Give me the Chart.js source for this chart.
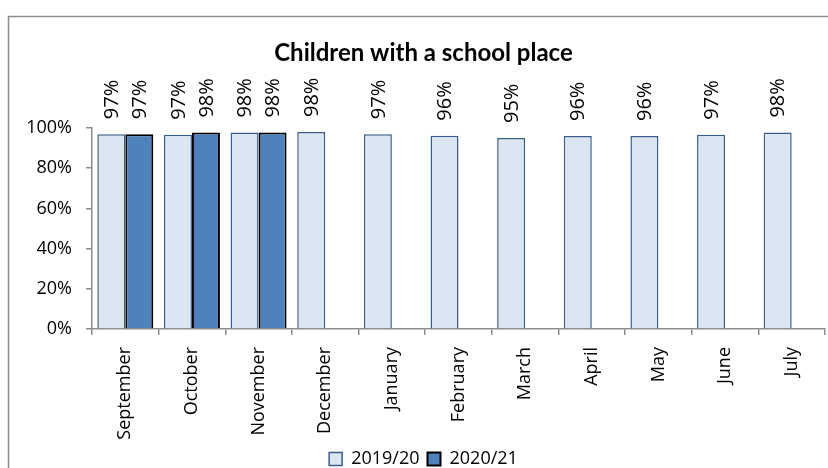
<!DOCTYPE html>
<html>
<head>
<meta charset="utf-8">
<script src="https://cdn.jsdelivr.net/npm/chart.js@4/dist/chart.umd.min.js"></script>
<style>
  html, body { margin: 0; padding: 0; background: #fff; overflow: hidden; }
  #wrap { position: relative; width: 860px; height: 478px; }
</style>
</head>
<body>
<div id="wrap"><canvas id="chart" width="860" height="478"></canvas></div>
<script>
// Months of the school year
const months = ['September', 'October', 'November', 'December', 'January', 'February',
                'March', 'April', 'May', 'June', 'July'];
// Share of children with a school place (%)
const year2019 = [96.9, 96.6, 97.7, 98.0, 96.9, 96.2, 95.0, 96.0, 96.0, 96.7, 97.7];
const year2020 = [96.9, 97.7, 97.7, null, null, null, null, null, null, null, null];
const seriesNames = ['2019/20', '2020/21'];
const yTicks = [0, 20, 40, 60, 80, 100];

const FONT = '"Open Sans", Lato, "Liberation Sans", sans-serif';
const TITLE_FONT = 'Lato, "Open Sans", "Liberation Sans", sans-serif';

// Outer frame around the whole chart
const framePlugin = {
  id: 'frame',
  beforeDraw(chart) {
    const ctx = chart.ctx;
    ctx.save();
    ctx.fillStyle = '#ffffff';
    ctx.fillRect(0, 0, chart.width, chart.height);
    ctx.strokeStyle = '#8c8c8c';
    ctx.lineWidth = 1.5;
    ctx.strokeRect(8.5, 16.5, 2000, 2000);
    ctx.restore();
  }
};

// Vertical percentage labels above each bar
const valueLabels = {
  id: 'valueLabels',
  afterDatasetsDraw(chart) {
    const ctx = chart.ctx;
    ctx.save();
    ctx.font = '20px ' + FONT;
    ctx.fillStyle = '#000';
    ctx.textAlign = 'left';
    ctx.textBaseline = 'middle';
    chart.data.datasets.forEach((ds, di) => {
      const meta = chart.getDatasetMeta(di);
      meta.data.forEach((bar, i) => {
        const v = ds.data[i];
        if (v === null || v === undefined) return;
        ctx.save();
        ctx.translate(bar.x + 1, bar.y - 15);
        ctx.rotate(-Math.PI / 2);
        ctx.fillText(Math.round(v) + '%', 0, 0);
        ctx.restore();
      });
    });
    ctx.restore();
  }
};

new Chart(document.getElementById('chart'), {
  type: 'bar',
  data: {
    labels: months,
    datasets: [
      {
        label: seriesNames[0],
        data: year2019,
        backgroundColor: '#dce6f2',
        borderColor: '#385d8a',
        borderWidth: 1.5,
        categoryPercentage: 0.84,
        barPercentage: 1.0
      },
      {
        label: seriesNames[1],
        data: year2020,
        backgroundColor: '#4f81bd',
        borderColor: '#000000',
        borderWidth: 2,
        categoryPercentage: 0.84,
        barPercentage: 1.0
      }
    ]
  },
  options: {
    responsive: false,
    animation: false,
    layout: { padding: { left: 22, right: 35, top: 0, bottom: 0 } },
    plugins: {
      title: {
        display: true,
        text: 'Children with a school place',
        color: '#000',
        font: { family: TITLE_FONT, size: 24, weight: 'bold' },
        padding: { top: 38.6, bottom: 60.6 }
      },
      legend: {
        position: 'bottom',
        labels: {
          color: '#000',
          font: { family: FONT, size: 18 },
          boxWidth: 13,
          boxHeight: 13,
          padding: 8
        }
      },
      tooltip: { enabled: false }
    },
    scales: {
      x: {
        grid: {
          display: true,
          drawOnChartArea: false,
          offset: true,
          tickLength: 6,
          color: '#8c8c8c',
          lineWidth: 1.5
        },
        border: { color: '#8c8c8c', width: 1.5 },
        ticks: {
          color: '#000',
          font: { family: FONT, size: 18 },
          minRotation: 90,
          maxRotation: 90,
          padding: 12,
          autoSkip: false
        },
        afterFit(scale) {
          scale.height = 113;
          scale.paddingLeft = 0;
          scale.paddingRight = 0;
        }
      },
      y: {
        min: 0,
        max: 100,
        afterBuildTicks(scale) {
          scale.ticks = yTicks.map(v => ({ value: v }));
        },
        grid: {
          display: true,
          drawOnChartArea: false,
          tickLength: 6,
          color: '#8c8c8c',
          lineWidth: 1.5
        },
        border: { color: '#8c8c8c', width: 1.5 },
        ticks: {
          color: '#000',
          font: { family: FONT, size: 18 },
          padding: 14,
          callback: v => v + '%'
        },
        afterFit(scale) {
          scale.width = 70;
          scale.paddingTop = 0;
          scale.paddingBottom = 0;
        }
      }
    }
  },
  plugins: [framePlugin, valueLabels]
});
</script>
</body>
</html>
